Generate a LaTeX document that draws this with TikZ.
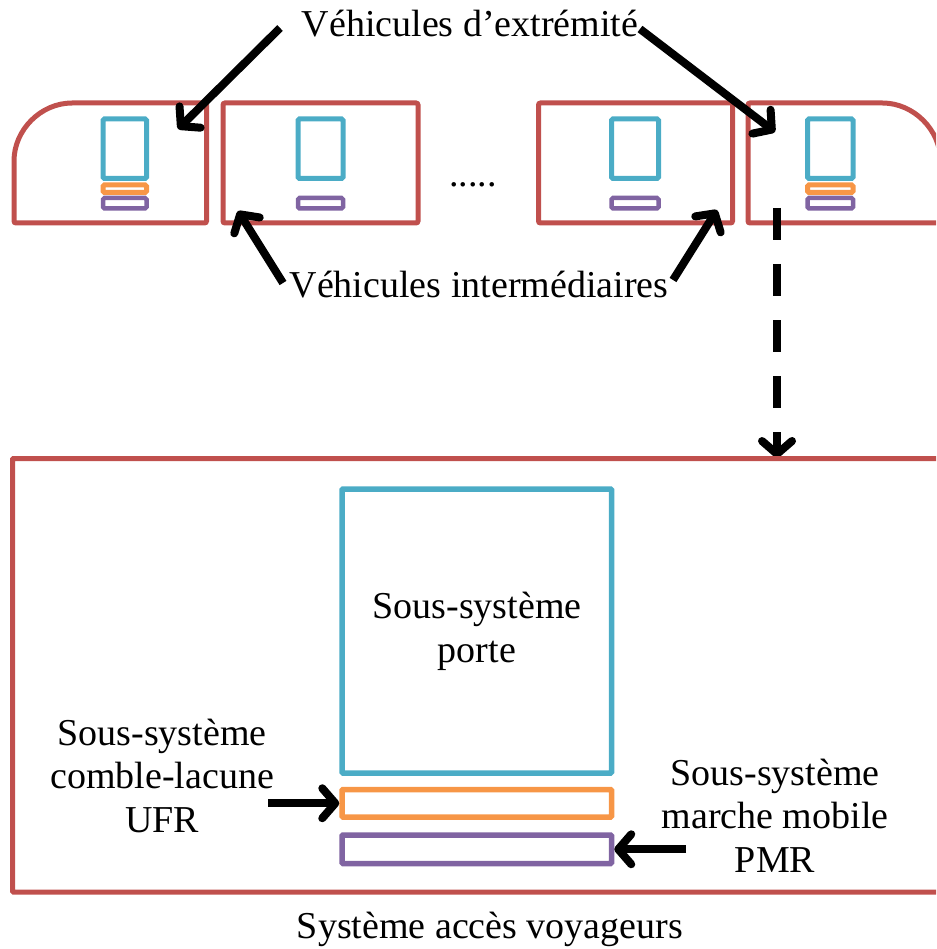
\documentclass[tikz,border=0pt]{standalone}
\usepackage{fontspec}
\setmainfont{Liberation Serif}
\usetikzlibrary{arrows.meta}
\definecolor{carred}{HTML}{C0504D}
\definecolor{doorblue}{HTML}{4BACC6}
\definecolor{ufrorange}{HTML}{F79646}
\definecolor{pmrpurple}{HTML}{8064A2}
\begin{document}
\begin{tikzpicture}[x=1pt,y=-1pt,
  car/.style={draw=carred,line width=5pt,rounded corners=2pt},
  smalldoor/.style={draw=doorblue,line width=5pt,rounded corners=1.5pt},
  smallufr/.style={draw=ufrorange,line width=5pt,rounded corners=1.5pt},
  smallpmr/.style={draw=pmrpurple,line width=4.5pt,rounded corners=1.5pt},
  bigbox/.style={draw=#1,line width=5.5pt,rounded corners=1pt,inner sep=0pt,minimum width=269.5pt},
  lbl/.style={font=\fontsize{38}{44}\selectfont,inner sep=0pt,anchor=base},
  arr/.style={line width=8pt,-{Straight Barb[length=13pt,width=30pt,round]}},
]
\useasboundingbox (0,0) rectangle (936,949);
\clip (0,0) rectangle (936,949);

% --- top train ---
\draw[car] (206.5,223) -- (14,223) -- (14,163) arc[start angle=180,end angle=90,radius=60pt] -- (206.5,103) -- cycle;
\draw[smalldoor] (103,119) rectangle (146.5,178.5);
\draw[smallufr] (103,185) rectangle (146.5,192.5);
\draw[smallpmr] (103,198) rectangle (146.5,208.5);

\draw[car] (223,103) rectangle (418,223);
\draw[smalldoor] (298,119) rectangle (343,178.5);
\draw[smallpmr] (298,198) rectangle (343,208.5);

\node[lbl] (dots) at (473,187) {.....};

\draw[car] (538.5,103) rectangle (732.5,223);
\draw[smalldoor] (611.5,119) rectangle (658.5,178.5);
\draw[smallpmr] (611.5,198) rectangle (658.5,208.5);

\draw[car] (748,223) -- (748,103) -- (880.5,103) arc[start angle=90,end angle=0,radius=60pt] -- (940.5,223) -- cycle;
\draw[smalldoor] (807.5,119) rectangle (853,178.5);
\draw[smallufr] (807.5,185) rectangle (853,192.5);
\draw[smallpmr] (807.5,198) rectangle (853,208.5);

% --- labels top ---
\node[lbl] (ext) at (470,37) {Véhicules d’extrémité};
\node[lbl] (int) at (479,297) {Véhicules intermédiaires};

\coordinate (extL) at (280,28);
\coordinate (extR) at (640,29);
\coordinate (car1) at (178,129);
\coordinate (car4) at (775,132);
\coordinate (intL) at (283,283);
\coordinate (intR) at (673,280);
\coordinate (car2) at (238,211);
\coordinate (car3) at (717,210);
\draw[arr] (extL) -- (car1);
\draw[arr] (extR) -- (car4);
\draw[arr] (intL) -- (car2);
\draw[arr] (intR) -- (car3);

% --- zoom arrow ---
\coordinate (zoomA) at (777,208);
\coordinate (zoomB) at (777,458);
\draw[arr,dash pattern=on 32pt off 24pt] (zoomA) -- (zoomB);

% --- detail ---
\draw[car,rounded corners=1pt] (12.5,458.5) rectangle (960,892);
\node[bigbox=doorblue,minimum height=284pt] (porte) at (476.75,631) {};
\node[bigbox=ufrorange,minimum height=27.5pt] (ufr) at (476.75,803.25) {};
\node[bigbox=pmrpurple,minimum height=28.5pt] (pmr) at (476.75,849.25) {};

\node[lbl] (porte1) at (477,618) {Sous-système};
\node[lbl] (porte2) at (477,662) {porte};

\node[lbl] (ufr1) at (162,745) {Sous-système};
\node[lbl] (ufr2) at (162,788) {comble-lacune};
\node[lbl] (ufr3) at (162,832) {UFR};

\node[lbl] (pmr1) at (775,785) {Sous-système};
\node[lbl] (pmr2) at (775,828) {marche mobile};
\node[lbl] (pmr3) at (775,872) {PMR};

\coordinate (ufrA) at (268,803.25);
\coordinate (pmrA) at (686,849.25);
\draw[arr] (ufrA) -- (ufr.west);
\draw[arr] (pmrA) -- (pmr.east);

\node[lbl] (sys) at (490,938) {Système accès voyageurs};
\end{tikzpicture}
\end{document}
